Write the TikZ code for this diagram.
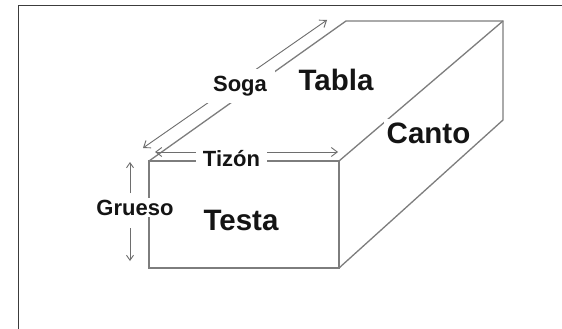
\documentclass[tikz,border=0pt]{standalone}
\usepackage{fontspec}
\setmainfont{Liberation Sans}
\usetikzlibrary{arrows.meta}
\definecolor{boxgray}{RGB}{125,125,125}
\definecolor{dimgray}{RGB}{110,110,110}
\definecolor{framegray}{RGB}{60,60,60}
\definecolor{inkblack}{RGB}{20,20,20}
\begin{document}
\begin{tikzpicture}[x=1pt,y=-1pt,
  edge/.style={draw=boxgray, line width=1.3pt, line join=miter},
  barb/.tip={Straight Barb[length=6pt,width=9pt]},
  smallbarb/.tip={Straight Barb[length=5pt,width=7pt]},
  dim/.style={draw=dimgray, line width=0.9pt, barb-barb},
  onedim/.style={draw=dimgray, line width=0.9pt, -smallbarb},
  biglabel/.style={font=\fontsize{29.5}{32}\selectfont\bfseries, text=inkblack,
                   fill=white, anchor=base, inner sep=3pt},
  smalllabel/.style={font=\fontsize{22}{24}\selectfont\bfseries, text=inkblack,
                     fill=white, anchor=base}]
  \useasboundingbox (0,0) rectangle (562,329);
  \fill[white] (0,0) rectangle (562,329);

  % page frame (left and top rules)
  \draw[framegray, line width=1.5pt] (18.5,335) -- (18.5,5.5) -- (568,5.5);

  % corners of the brick
  \coordinate (ftl) at (149,161);
  \coordinate (ftr) at (339,161);
  \coordinate (fbr) at (339,268);
  \coordinate (fbl) at (149,268);
  \coordinate (btl) at (346,21);
  \coordinate (btr) at (503,21);
  \coordinate (bbr) at (503,120);

  % brick edges
  \draw[edge] (ftl) -- (ftr) -- (fbr) -- (fbl) -- cycle;
  \draw[edge] (ftl) -- (btl) -- (btr) -- (bbr) -- (fbr);
  \draw[edge] (ftr) -- (btr);

  % dimension lines
  \coordinate (sogaA) at (143,148);
  \coordinate (sogaB) at (327,20);
  \coordinate (tizA) at (155,152);
  \coordinate (tizB) at (338,152);
  \coordinate (grTop) at (130,162);
  \coordinate (grUp) at (130,193);
  \coordinate (grDn) at (130,228);
  \coordinate (grBot) at (130,261);
  \draw[dim] (sogaA) -- (sogaB);
  \draw[dim] (tizA) -- (tizB);
  \draw[onedim] (grUp) -- (grTop);
  \draw[onedim] (grDn) -- (grBot);

  % labels
  \node[smalllabel, inner xsep=8pt, inner ysep=7pt] (soga) at (240,91) {Soga};
  \node[smalllabel, inner xsep=7pt, inner ysep=3pt] (tizon) at (231.5,166) {Tizón};
  \node[smalllabel, inner sep=2pt] (grueso) at (135,215) {Grueso};
  \node[biglabel] (tabla) at (336,90) {Tabla};
  \node[biglabel] (canto) at (428.5,143) {Canto};
  \node[biglabel] (testa) at (241,230) {Testa};
\end{tikzpicture}
\end{document}
